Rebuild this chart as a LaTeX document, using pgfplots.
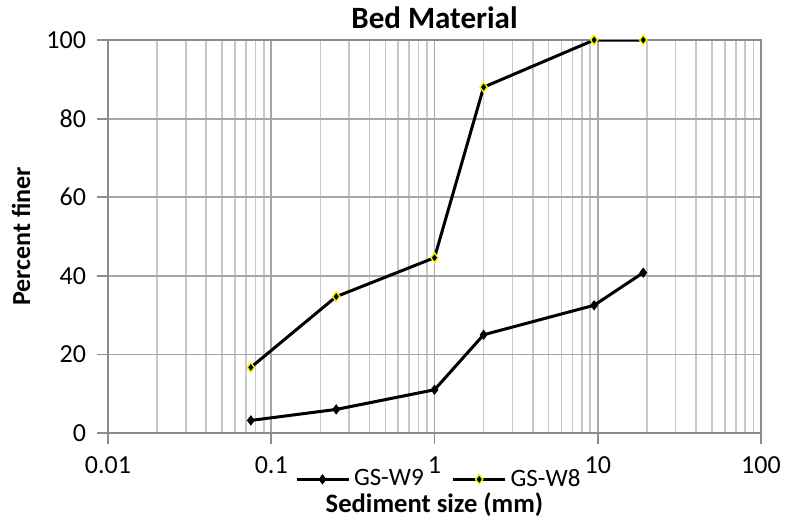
\documentclass[border=0pt]{standalone}
\usepackage{pgfplots}
\pgfplotsset{compat=1.18}
\usepackage{fontspec}
\setmainfont{Carlito}

\definecolor{gridmajor}{HTML}{A6A6A6}
\definecolor{gridminor}{HTML}{C8C8C8}
\definecolor{axgray}{HTML}{8C8C8C}
\definecolor{myyellow}{HTML}{F2F200}

\begin{document}
\begin{tikzpicture}
    \begin{axis}[
        xmode=log,
        width=326.5pt, height=196.5pt,
        scale only axis,
        xmin=0.01, xmax=100,
        ymin=0, ymax=100,
        xtick={0.01,0.1,1,10,100},
        xticklabels={0.01,0.1,1,10,100},
        ytick={0,20,40,60,80,100},
        /pgf/number format/assume math mode=true,
        tick label style={font=\fontsize{13}{15}\selectfont},
        grid=both,
        major grid style={gridmajor, line width=0.9pt},
        minor grid style={gridminor, line width=0.8pt},
        axis line style={axgray, line width=0.9pt},
        tick style={axgray, line width=0.9pt},
        tick align=outside,
        major tick length=5.5pt,
        minor tick length=0pt,
        xtick pos=bottom, ytick pos=left,
        xticklabel style={yshift=-3pt},
        yticklabel style={xshift=-2pt},
        title={Bed Material},
        every axis title shift=0pt,
        title style={font=\fontsize{15.5}{17}\selectfont\bfseries, inner sep=0pt,
            at={(axis description cs:0.5,1)}, anchor=base, yshift=6pt},
        xlabel={Sediment size (mm)},
        xlabel style={font=\fontsize{13.3}{15}\selectfont\bfseries, inner sep=0pt,
            at={(axis description cs:0.5,0)}, anchor=base, yshift=-39.5pt},
        ylabel={Percent finer},
        ylabel style={font=\fontsize{13}{15}\selectfont\bfseries,
            at={(axis description cs:-0.133,0.5)}, anchor=center},
        legend columns=-1,
        legend style={draw=none, fill=none, font=\fontsize{12.5}{14}\selectfont,
            inner sep=0pt, at={(axis description cs:0.508,-0.118)}, anchor=center,
            /tikz/every even column/.append style={column sep=12pt}},
        legend image code/.code={
            \draw[#1, mark repeat=2, mark phase=2] plot coordinates {(0pt,0pt) (13pt,0pt) (26pt,0pt)};},
    ]
        % GS-W9
        \addplot[black, line width=1.5pt, mark=diamond*, mark size=2.2pt,
            mark options={solid, fill=black, draw=black, line width=0.5pt}]
        coordinates {(0.075,3.2) (0.25,6) (1,11) (2,25) (9.5,32.5) (19,40.8)};
        \addlegendentry{GS-W9}

        % GS-W8
        \addplot[black, line width=1.5pt, mark=diamond*, mark size=2.4pt,
            mark options={solid, fill=black, draw=myyellow, line width=0.7pt}]
        coordinates {(0.075,16.7) (0.25,34.7) (1,44.6) (2,88) (9.5,100) (19,100)};
        \addlegendentry{GS-W8}

        \coordinate (o) at (rel axis cs:0,0);
        \coordinate (e) at (rel axis cs:1,1);
    \end{axis}
    \pgfresetboundingbox
    \path[use as bounding box] ([xshift=-54pt,yshift=-43.5pt]o) rectangle ([xshift=12pt,yshift=20pt]e);
\end{tikzpicture}
\end{document}
